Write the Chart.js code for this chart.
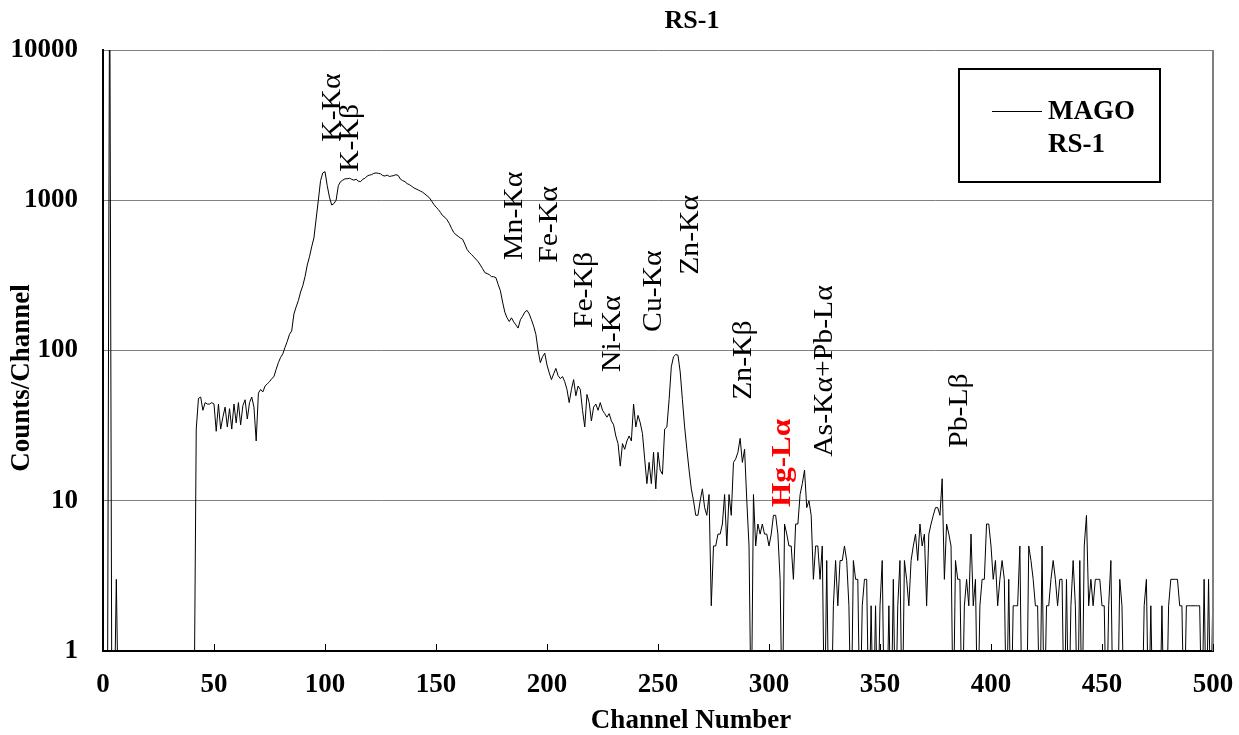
<!DOCTYPE html>
<html>
<head>
<meta charset="utf-8">
<script src="https://cdn.jsdelivr.net/npm/chart.js@4/dist/chart.umd.min.js"></script>
<style>
  html, body { margin: 0; padding: 0; background: #fff; }
  #wrap { width: 1239px; height: 735px; position: relative; }
</style>
</head>
<body>
<div id="wrap"><canvas id="c"></canvas></div>
<script>
// ---------- data ----------
const chartTitle = 'RS-1';
const xTitle = 'Channel Number';
const yTitle = 'Counts/Channel';
const seriesNameLines = ['MAGO', 'RS-1'];

const xTicks = [0, 50, 100, 150, 200, 250, 300, 350, 400, 450, 500];
const yTicks = [1, 10, 100, 1000, 10000];

// counts per channel 0..500
const counts = [
  0,0,0,50000,0,0,3,0,0,0,
  0,0,0,0,0,0,0,0,0,0,
  0,0,0,0,0,0,0,0,0,0,
  0,0,0,0,0,0,0,0,0,0,
  0,0,30,48,49,40,45,44,44,45,
  44,29,44,30,36,42,31,41,30,44,
  33,45,32,43,47,35,45,49,42,25,
  52,55,53,58,60,62,65,67,75,83,
  90,95,105,115,128,135,175,195,215,245,
  270,310,370,420,490,560,750,1000,1350,1520,
  1550,1250,1050,930,950,1000,1250,1330,1360,1390,
  1390,1400,1380,1360,1380,1340,1330,1380,1400,1450,
  1470,1480,1510,1520,1510,1500,1460,1450,1470,1440,
  1450,1460,1480,1460,1380,1350,1330,1290,1270,1240,
  1210,1190,1170,1150,1130,1100,1070,1040,990,940,
  900,870,830,790,770,740,700,650,610,590,
  575,560,550,510,470,450,435,420,405,390,
  370,350,330,325,320,310,310,305,275,250,
  210,180,165,156,165,155,148,141,160,169,
  180,185,175,160,145,128,100,83,91,96,
  80,71,64,70,76,68,65,67,62,55,
  45,55,64,50,58,55,40,31,51,45,
  34,42,44,40,45,40,38,36,38,34,
  32,27,24,17,24,22,25,27,25,44,
  31,37,33,28,19,13,18,13,21,12,
  21,16,15,30,31,47,78,91,94,93,
  72,47,31,22,16,12,10,8,8,10,
  12,9,8,11,2,5,5,6,6,7,
  11,5,11,8,18,19,21,26,18,22,
  10,5,0,11,5,7,6,7,6,6,
  5,6,8,8,6,3,0,7,6,5,
  5,3,7,7,11,13,16,9,10,8,
  3,5,5,3,5,0,4,0,0,2,
  4,2,4,4,5,4,2,0,4,3,
  3,0,2,3,3,0,2,0,2,0,
  2,4,0,0,2,0,3,0,2,4,
  0,4,3,2,4,5,6,4,7,5,
  6,2,6,7,8,9,9,8,14,3,
  7,6,5,0,4,3,3,0,2,3,
  2,6,2,3,0,2,3,3,7,7,
  5,3,4,2,3,4,3,0,3,0,
  2,2,2,5,0,0,0,5,4,3,
  2,2,0,5,0,2,2,3,4,3,
  2,3,3,0,3,0,2,4,2,0,
  4,0,5,8,2,3,2,3,3,3,
  2,2,0,2,4,0,0,0,3,2,
  0,0,0,0,0,0,0,0,0,2,
  3,0,2,0,0,0,0,2,0,0,
  2,3,3,3,3,2,2,0,2,2,
  2,2,2,2,2,0,3,0,3,0,
  3
];
const channels = counts.map((_, i) => i);

// peak labels: text, channel of label baseline, count where the label starts
const peakLabels   = ['K-Kα', 'K-Kβ', 'Mn-Kα', 'Fe-Kα', 'Fe-Kβ', 'Ni-Kα', 'Cu-Kα', 'Zn-Kα', 'Zn-Kβ', 'Hg-Lα', 'As-Kα+Pb-Lα', 'Pb-Lβ'];
const peakChannels = [106.8, 114.9, 188.7, 204.5, 220.3, 232.9, 251.4, 268.0, 291.9, 309.5, 328.4, 389.2];
const peakCounts   = [2449, 1545, 401, 383, 141, 72, 133, 319, 47, 9.1, 19.6, 22.5];
const highlightLabel = 'Hg-Lα';

// ---------- styling ----------
const SERIF = "'Liberation Serif', 'Times New Roman', serif";
// zero counts cannot sit on a log axis: draw them just below the bottom edge (clipped)
const LOG_FLOOR = 0.3;

const decorPlugin = {
  id: 'decor',
  beforeDraw(chart) {
    const ctx = chart.ctx;
    ctx.save();
    ctx.fillStyle = '#fff';
    ctx.fillRect(0, 0, chart.width, chart.height);
    ctx.restore();
  },
  afterDraw(chart) {
    const { ctx, chartArea: ca, scales } = chart;
    const xs = scales.x, ys = scales.y;
    ctx.save();
    // right border
    ctx.strokeStyle = '#808080';
    ctx.lineWidth = 2;
    ctx.beginPath();
    ctx.moveTo(ca.right, ca.top);
    ctx.lineTo(ca.right, ca.bottom);
    ctx.stroke();
    // inner tick marks on x axis
    ctx.strokeStyle = '#000';
    ctx.lineWidth = 1;
    xTicks.forEach(v => {
      const px = Math.round(xs.getPixelForValue(v)) + 0.5;
      ctx.beginPath();
      ctx.moveTo(px, ca.bottom);
      ctx.lineTo(px, ca.bottom - 7);
      ctx.stroke();
    });
    // peak labels
    peakLabels.forEach((t, i) => {
      const px = xs.getPixelForValue(peakChannels[i]);
      const py = ys.getPixelForValue(peakCounts[i]);
      const hl = t === highlightLabel;
      ctx.save();
      ctx.translate(px, py);
      ctx.rotate(-Math.PI / 2);
      ctx.scale(hl ? 1.15 : 1.1, 1);
      ctx.font = (hl ? 'bold ' : '') + '27px ' + SERIF;
      ctx.fillStyle = hl ? '#ff0000' : '#000';
      ctx.textAlign = 'left';
      ctx.textBaseline = 'alphabetic';
      ctx.fillText(t, 0, 0);
      ctx.restore();
    });
    // titles
    ctx.fillStyle = '#000';
    ctx.font = 'bold 26px ' + SERIF;
    ctx.textAlign = 'center';
    ctx.textBaseline = 'middle';
    ctx.fillText(chartTitle, 692, 21);
    ctx.font = 'bold 27px ' + SERIF;
    ctx.fillText(xTitle, 691, 721);
    ctx.save();
    ctx.translate(22, 378);
    ctx.rotate(-Math.PI / 2);
    ctx.fillText(yTitle, 0, 0);
    ctx.restore();
    // legend box
    const bx = 959, by = 69, bw = 201, bh = 113;
    ctx.fillStyle = '#fff';
    ctx.fillRect(bx, by, bw, bh);
    ctx.strokeStyle = '#000';
    ctx.lineWidth = 2;
    ctx.strokeRect(bx, by, bw, bh);
    ctx.lineWidth = 1;
    ctx.beginPath();
    ctx.moveTo(992, 111.5);
    ctx.lineTo(1042, 111.5);
    ctx.stroke();
    ctx.fillStyle = '#000';
    ctx.font = 'bold 27px ' + SERIF;
    ctx.textAlign = 'left';
    ctx.textBaseline = 'middle';
    seriesNameLines.forEach((s, i) => ctx.fillText(s, 1048, 112 + i * 33));
    ctx.restore();
  }
};

new Chart(document.getElementById('c'), {
  type: 'line',
  data: {
    datasets: [{
      label: seriesNameLines.join(' '),
      data: channels.map((ch, i) => ({ x: ch, y: counts[i] > 0 ? counts[i] : LOG_FLOOR })),
      borderColor: '#000',
      borderWidth: 1,
      pointRadius: 0,
      tension: 0,
      fill: false
    }]
  },
  options: {
    responsive: true,
    maintainAspectRatio: false,
    animation: false,
    events: [],
    layout: { padding: { top: 50, right: 26, bottom: 0, left: 0 } },
    plugins: {
      legend: { display: false },
      title: { display: false },
      tooltip: { enabled: false }
    },
    scales: {
      x: {
        type: 'linear',
        min: 0,
        max: 500,
        afterBuildTicks: s => { s.ticks = xTicks.map(v => ({ value: v })); },
        afterFit: s => { s.height = 84; },
        grid: { display: false, drawTicks: false },
        border: { display: true, color: '#000', width: 2 },
        ticks: {
          padding: 4,
          color: '#000',
          maxRotation: 0,
          autoSkip: false,
          font: { family: SERIF, size: 27, weight: 'bold', lineHeight: 2.222 },
          callback: v => String(v)
        }
      },
      y: {
        type: 'logarithmic',
        min: 1,
        max: 10000,
        afterBuildTicks: s => { s.ticks = yTicks.map(v => ({ value: v })); },
        afterFit: s => { s.width = 103; },
        grid: { color: '#808080', lineWidth: 1, drawTicks: false },
        border: { display: true, color: '#000', width: 2 },
        ticks: {
          padding: 25,
          color: '#000',
          autoSkip: false,
          font: { family: SERIF, size: 27, weight: 'bold' },
          callback: v => String(v)
        }
      }
    }
  },
  plugins: [decorPlugin]
});
</script>
</body>
</html>
